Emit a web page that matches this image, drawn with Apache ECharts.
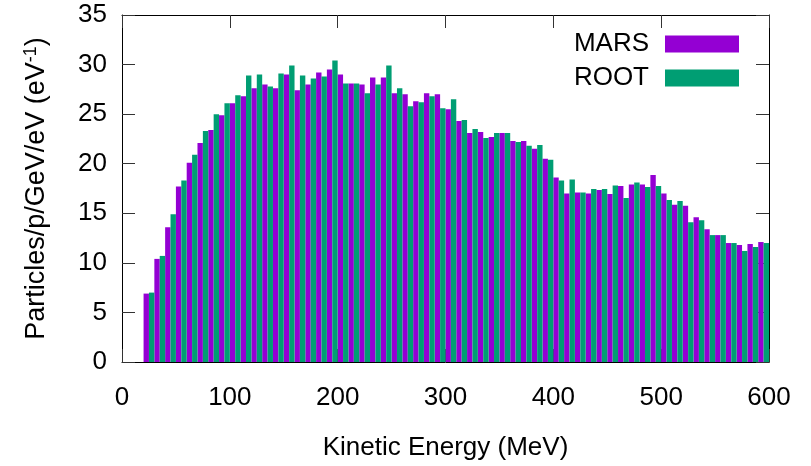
<!DOCTYPE html>
<html>
<head>
<meta charset="utf-8">
<title>MARS vs ROOT</title>
<script src="https://cdn.jsdelivr.net/npm/echarts@6/dist/echarts.min.js"></script>
<style>
    html, body { margin: 0; padding: 0; background: #fff; }
    #chart { width: 811px; height: 466px; }
</style>
</head>
<body>
<div id="chart"></div>
<script>
// lower edge of each 10 MeV bin
const binStart = [20, 30, 40, 50, 60, 70, 80, 90, 100, 110,
    120, 130, 140, 150, 160, 170, 180, 190, 200, 210,
    220, 230, 240, 250, 260, 270, 280, 290, 300, 310,
    320, 330, 340, 350, 360, 370, 380, 390, 400, 410,
    420, 430, 440, 450, 460, 470, 480, 490, 500, 510,
    520, 530, 540, 550, 560, 570, 580, 590];

const marsValues = [6.9, 10.4, 13.6, 17.7, 20.1, 22.1, 23.4, 24.9, 26.1, 26.8,
    27.6, 28.0, 27.6, 29.0, 27.4, 28.0, 29.2, 29.5, 29.0, 28.1,
    28.0, 28.7, 28.7, 27.1, 27.0, 26.3, 27.1, 27.0, 25.5, 24.3,
    23.1, 23.2, 22.7, 23.1, 22.3, 22.3, 21.5, 20.5, 18.6, 17.0,
    17.1, 17.0, 17.35, 16.95, 17.75, 17.9, 17.9, 18.85, 17.0, 15.85,
    15.75, 14.6, 13.4, 12.8, 12.0, 11.8, 11.9, 12.1];

const rootValues = [7.0, 10.7, 14.9, 18.3, 20.9, 23.3, 25.0, 26.1, 26.9, 28.9,
    29.0, 27.8, 29.1, 29.9, 28.9, 28.6, 28.8, 30.4, 28.1, 28.1,
    27.1, 28.0, 29.9, 27.6, 25.8, 26.2, 26.8, 25.6, 26.5, 24.4,
    23.5, 22.6, 23.1, 23.1, 22.2, 21.8, 21.9, 20.4, 18.3, 18.4,
    17.1, 17.45, 17.45, 17.8, 16.55, 18.1, 17.65, 17.75, 16.35, 16.25,
    14.1, 14.3, 12.8, 12.8, 12.0, 11.2, 11.6, 12.0];

const xTicks = [0, 100, 200, 300, 400, 500, 600];
const yTicks = [0, 5, 10, 15, 20, 25, 30, 35];

const FONT = 'Liberation Sans, Arial, sans-serif';
const MARS_COLOR = '#9400d3';
const ROOT_COLOR = '#009e73';

// each bin holds two half-width bars: MARS on the left, ROOT on the right
function halfBar(offset) {
    return function (params, api) {
        let e = api.value(0);
        let v = api.value(1);
        let p0 = api.coord([e + offset, v]);
        let p1 = api.coord([e + offset + 5, 0]);
        return {
            type: 'rect',
            shape: {x: p0[0], y: p0[1], width: p1[0] - p0[0], height: p1[1] - p0[1]},
            style: api.style()
        };
    };
}

const chart = echarts.init(document.getElementById('chart'));

const tickStyle = {show: true, inside: true, length: 13, lineStyle: {color: '#333', width: 1}};
const lineStyle = {show: true, onZero: false, lineStyle: {color: '#000', width: 1}};

let option = {
    animation: false,
    textStyle: {fontFamily: FONT},
    grid: {left: 122, right: 42, top: 15, bottom: 104},
    legend: {
        right: 72,
        top: 31,
        orient: 'vertical',
        align: 'right',
        padding: 0,
        itemWidth: 74,
        itemHeight: 17,
        itemGap: 8,
        selectedMode: false,
        data: [{name: 'MARS', icon: 'rect'}, {name: 'ROOT', icon: 'rect'}],
        textStyle: {fontFamily: FONT, fontSize: 26, color: '#000', lineHeight: 26, padding: [0, 11, 0, 0]}
    },
    xAxis: [{
        type: 'value',
        min: xTicks[0],
        max: xTicks[xTicks.length - 1],
        interval: 100,
        position: 'bottom',
        name: 'Kinetic Energy (MeV)',
        nameLocation: 'middle',
        nameGap: 73,
        nameTextStyle: {fontFamily: FONT, fontSize: 26, color: '#000'},
        axisLine: lineStyle,
        axisTick: tickStyle,
        splitLine: {show: false},
        axisLabel: {fontFamily: FONT, fontSize: 26, color: '#000', margin: 23}
    }, {
        type: 'value',
        min: xTicks[0],
        max: xTicks[xTicks.length - 1],
        interval: 100,
        position: 'top',
        axisLine: lineStyle,
        axisTick: tickStyle,
        splitLine: {show: false},
        axisLabel: {show: false}
    }],
    yAxis: [{
        type: 'value',
        min: yTicks[0],
        max: yTicks[yTicks.length - 1],
        interval: 5,
        position: 'left',
        name: 'Particles/p/GeV/eV (eV{sup|-1})',
        nameLocation: 'middle',
        nameRotate: 90,
        nameGap: 70,
        nameTextStyle: {
            fontFamily: FONT, fontSize: 27, color: '#000',
            rich: {sup: {fontFamily: FONT, fontSize: 18, color: '#000', verticalAlign: 'top', padding: [0, 0, 12, 0]}}
        },
        axisLine: lineStyle,
        axisTick: tickStyle,
        splitLine: {show: false},
        axisLabel: {fontFamily: FONT, fontSize: 26, color: '#000', margin: 15}
    }, {
        type: 'value',
        min: yTicks[0],
        max: yTicks[yTicks.length - 1],
        interval: 5,
        position: 'right',
        axisLine: lineStyle,
        axisTick: tickStyle,
        splitLine: {show: false},
        axisLabel: {show: false}
    }],
    series: [{
        name: 'MARS',
        type: 'custom',
        renderItem: halfBar(0),
        itemStyle: {color: MARS_COLOR},
        encode: {x: 0, y: 1},
        data: binStart.map((e, i) => [e, marsValues[i]])
    }, {
        name: 'ROOT',
        type: 'custom',
        renderItem: halfBar(5),
        itemStyle: {color: ROOT_COLOR},
        encode: {x: 0, y: 1},
        data: binStart.map((e, i) => [e, rootValues[i]])
    }]
};

chart.setOption(option);
</script>
</body>
</html>
